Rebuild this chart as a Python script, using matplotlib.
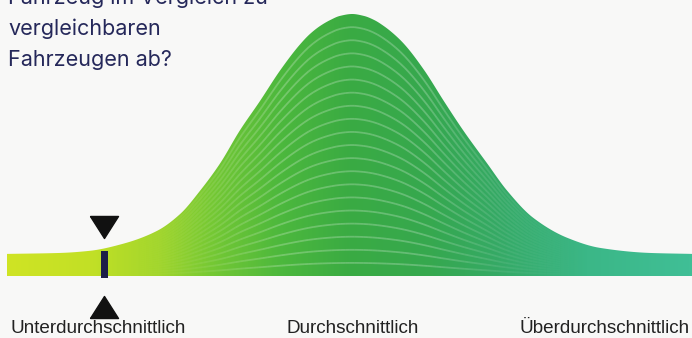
import numpy as np
import matplotlib
matplotlib.use("Agg")
import matplotlib.pyplot as plt
from matplotlib.colors import LinearSegmentedColormap
from matplotlib.patches import Polygon, Rectangle
from matplotlib.path import Path
from matplotlib.collections import LineCollection

# ---- data ----
# score axis 0..100 across the band, relative frequency (peak = 1)
score = [0.0, 7.7, 12.1, 16.9, 21.9, 25.3, 28.2, 31.1, 34.0, 36.9, 39.9,
         42.8, 44.2, 45.7, 47.2, 48.6, 50.4, 52.1, 53.6, 55.0, 56.5, 58.0,
         60.9, 63.8, 66.6, 70.1, 73.0, 76.8, 81.8, 86.6, 93.9, 100.0]
frequency = [0.0, 0.004, 0.013, 0.042, 0.096, 0.167, 0.264, 0.377, 0.515,
             0.636, 0.766, 0.874, 0.916, 0.950, 0.975, 0.992, 1.0, 0.992,
             0.975, 0.950, 0.916, 0.874, 0.766, 0.636, 0.515, 0.377, 0.264,
             0.151, 0.067, 0.025, 0.004, 0.0]
vehicle_score = 14.2
category_labels = ["Unterdurchschnittlich", "Durchschnittlich", "Überdurchschnittlich"]
title_lines = ["Fahrzeug im Vergleich zu", "vergleichbaren", "Fahrzeugen ab?"]

# ---- style ----
W, H = 692, 338
BG = "#f8f8f7"
NAVY = "#1c1e48"
band = 22 / 239  # band thickness in frequency units
n_stripes = 20

grad = LinearSegmentedColormap.from_list("g", [
    (0.00, "#cfe424"), (0.12, "#c2e026"), (0.22, "#a2d62c"), (0.30, "#74c834"),
    (0.40, "#4cb83d"), (0.50, "#3aab43"), (0.62, "#36a84f"), (0.72, "#35aa66"),
    (0.85, "#3bb787"), (1.00, "#40bf96")])


def smooth_outline(xp, yp, n=900):
    """Monotone cubic (Fritsch-Carlson) path through the read points, for drawing."""
    xp = np.asarray(xp, float)
    yp = np.asarray(yp, float)
    dx = np.diff(xp)
    d = np.diff(yp) / dx
    m = np.zeros_like(yp)
    m[0], m[-1] = d[0], d[-1]
    for i in range(1, len(xp) - 1):
        if d[i - 1] * d[i] <= 0:
            m[i] = 0.0
        else:
            w1 = 2 * dx[i] + dx[i - 1]
            w2 = dx[i] + 2 * dx[i - 1]
            m[i] = (w1 + w2) / (w1 / d[i - 1] + w2 / d[i])
    xs = np.linspace(xp[0], xp[-1], n)
    idx = np.clip(np.searchsorted(xp, xs) - 1, 0, len(xp) - 2)
    t = (xs - xp[idx]) / dx[idx]
    h00 = 2 * t**3 - 3 * t**2 + 1
    h10 = t**3 - 2 * t**2 + t
    h01 = -2 * t**3 + 3 * t**2
    h11 = t**3 - t**2
    ys = (h00 * yp[idx] + h10 * dx[idx] * m[idx] + h01 * yp[idx + 1]
          + h11 * dx[idx] * m[idx + 1])
    return xs, np.maximum(ys, 0)


fig = plt.figure(figsize=(W / 100, H / 100), dpi=100, facecolor=BG)
ax = fig.add_axes([7 / W, (H - 276) / H, 685 / W, (276 - 14) / H])
ax.set_xlim(0, 100)
ax.set_ylim(-band, 1.0)
ax.axis("off")
ax.set_facecolor("none")

xs, hs = smooth_outline(score, frequency)

# gradient fill clipped to band + bell
img = np.linspace(0, 1, 600).reshape(1, -1)
im = ax.imshow(img, cmap=grad, extent=[0, 100, -band, 1.0], aspect="auto",
               origin="lower", interpolation="bilinear", zorder=1)
verts = list(zip(xs, hs)) + [(100, -band), (0, -band)]
poly = Polygon(verts, closed=True, facecolor="none", edgecolor="none",
               transform=ax.transData)
ax.add_patch(poly)
im.set_clip_path(poly)

# light stripes following the curve
segs, cols = [], []
step = 6
for k in range(1, n_stripes):
    yk = -band + (band + hs) * k / n_stripes
    for i in range(0, len(xs) - step, step):
        j = i + step
        segs.append([(xs[i], yk[i]), (xs[j], yk[j])])
        sp = (band + 0.5 * (hs[i] + hs[j])) * 239 / n_stripes
        a = 0.24 * min(1.0, max(0.0, (sp - 1.5) / 9.0))
        cols.append((1, 1, 1, a))
lc = LineCollection(segs, colors=cols, linewidths=1.3, zorder=2,
                    capstyle="butt")
ax.add_collection(lc)
lc.set_clip_path(poly)

# vehicle marker
px_y = 1 / 239
ax.add_patch(Rectangle((vehicle_score - 0.51, -band - 2 * px_y), 1.02,
                       band + 5 * px_y, facecolor=NAVY, edgecolor="none",
                       zorder=4, clip_on=False))
tri_down = Path([(-14, 11), (14, 11), (0, -11), (-14, 11)])
tri_up = Path([(-14, -11), (14, -11), (0, 11), (-14, -11)])
ax.plot([vehicle_score], [27 * px_y], marker=tri_down, markersize=20.2,
        color="#111111", clip_on=False, zorder=5)
ax.plot([vehicle_score], [-53 * px_y], marker=tri_up, markersize=20.2,
        color="#111111", clip_on=False, zorder=5)

# category labels
base_y = (H - 333) / H
fig.text(10 / W, base_y, category_labels[0], fontsize=13.6,
         family="Liberation Sans", color="#222222", va="baseline", ha="left")
fig.text(287 / W, base_y, category_labels[1], fontsize=13.6,
         family="Liberation Sans", color="#222222", va="baseline", ha="left")
fig.text(690 / W, base_y, category_labels[2], fontsize=13.6,
         family="Liberation Sans", color="#222222", va="baseline", ha="right")

# title (top line cut by the page edge, as in the reference)
for i, t in enumerate(title_lines):
    fig.text(8 / W, (H - (4 + 31 * i)) / H, t, fontsize=15.5, family="Inter",
             color="#25285a", va="baseline", ha="left")

fig.savefig("out.png", dpi=100, facecolor=BG)
